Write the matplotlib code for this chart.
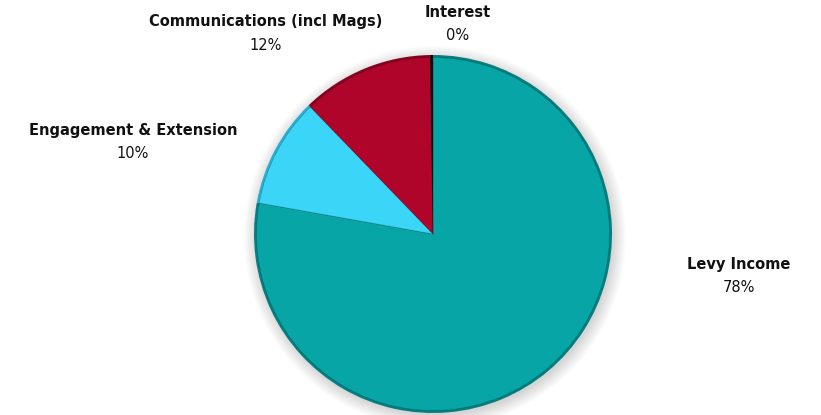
import matplotlib
matplotlib.use("Agg")
import matplotlib.pyplot as plt
import numpy as np
from matplotlib.patches import Circle

categories = ["Levy Income", "Engagement & Extension", "Communications (incl Mags)", "Interest"]
values = [78, 10, 12, 0.25]
pct_labels = ["78%", "10%", "12%", "0%"]
colors = ["#07A5A6", "#3BD5F7", "#B0052A", "#0A0A0A"]

W, H = 821, 415
fig = plt.figure(figsize=(W / 100, H / 100), dpi=100)
ax = fig.add_axes([0, 0, 1, 1])

cx, cy, r = 433, H - 234, 179

# soft shadow
for i in range(14):
    ax.add_patch(Circle((cx + 2, cy - 3), r + 12 - i, color="black", alpha=0.010, lw=0, zorder=0))

# base wedges (rim) then inner faces
rim = ["#057E80", "#2AAFD0", "#85031F", "#000000"]
ax.pie(values, colors=rim, startangle=90, counterclock=False, center=(cx, cy), radius=r,
       wedgeprops=dict(linewidth=0), frame=True)
ax.pie(values, colors=colors, startangle=90, counterclock=False, center=(cx, cy), radius=r - 2.5,
       wedgeprops=dict(linewidth=0.6, edgecolor="#00000030"), frame=True)
ax.set_xlim(0, W)
ax.set_ylim(0, H)
ax.set_aspect("equal")
ax.axis("off")

label_pos = [(739, 265), (133, 130), (266, 22), (458, 13)]
for (px, py), name, pl in zip(label_pos, categories, pct_labels):
    ax.text(px, H - py, name, ha="center", va="center", fontsize=10.5, fontweight="bold",
            color="#111111", family="DejaVu Sans")
    ax.text(px, H - py - 23, pl, ha="center", va="center", fontsize=10.5, color="#111111",
            family="DejaVu Sans")

fig.savefig("out.png", dpi=100, facecolor="white")
